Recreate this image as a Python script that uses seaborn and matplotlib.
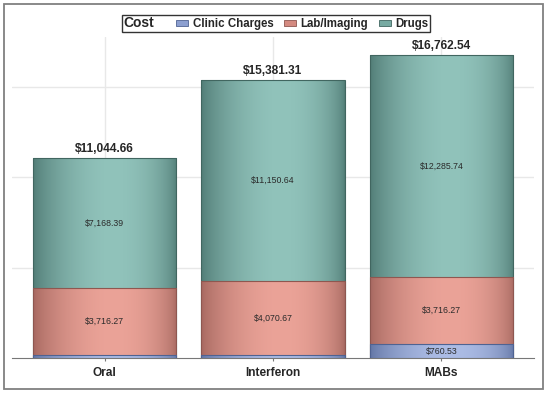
import numpy as np
import pandas as pd
import matplotlib
matplotlib.use("Agg")
import matplotlib.pyplot as plt
from matplotlib.colors import to_rgb
from matplotlib.patches import Patch, Rectangle
from matplotlib.offsetbox import DrawingArea
import seaborn as sns

# Data
categories = ["Oral", "Interferon", "MABs"]
clinic = [160.00, 160.00, 760.53]
lab = [3716.27, 4070.67, 3716.27]
drugs = [7168.39, 11150.64, 12285.74]
segment_names = ["Clinic Charges", "Lab/Imaging", "Drugs"]

# Colours (light centre / dark edge of the shaded bars)
light = {"Clinic Charges": "#acbce5", "Lab/Imaging": "#eba398", "Drugs": "#91c3bb"}
dark = {"Clinic Charges": "#6174a4", "Lab/Imaging": "#a5675f", "Drugs": "#507b75"}
edge = {"Clinic Charges": "#4f6392", "Lab/Imaging": "#8e5750", "Drugs": "#416660"}
mid = {"Clinic Charges": "#8c9fd0", "Lab/Imaging": "#d48a80", "Drugs": "#77aaa2"}

sns.set_style("white")
plt.rcParams["font.family"] = ["Liberation Sans", "DejaVu Sans"]

df = pd.DataFrame({"Treatment": categories, "Clinic Charges": clinic,
                   "Lab/Imaging": lab, "Drugs": drugs})
df["Lab_top"] = df["Clinic Charges"] + df["Lab/Imaging"]
df["Total"] = df["Lab_top"] + df["Drugs"]

fig = plt.figure(figsize=(5.5, 3.96), dpi=100)
ax = fig.add_axes([12 / 550, 38 / 396, 522 / 550, 321 / 396])

# stacked bars drawn as overlapping cumulative bars, then shaded
layers = [("Total", "Drugs"), ("Lab_top", "Lab/Imaging"), ("Clinic Charges", "Clinic Charges")]
t = np.linspace(0, 1, 300)
wgt = np.sin(np.pi * t ** 1.2) ** 0.6

for i, (col, name) in enumerate(layers):
    n0 = len(ax.patches)
    sns.barplot(data=df, x="Treatment", y=col, order=categories, width=0.85,
                color=light[name], edgecolor=edge[name], linewidth=0.8,
                errorbar=None, ax=ax)
    lo = np.array(to_rgb(dark[name]))
    hi = np.array(to_rgb(light[name]))
    grad = lo + (hi - lo) * wgt[:, None]
    for p in ax.patches[n0:]:
        x0, y0 = p.get_x(), p.get_y()
        w, h = p.get_width(), p.get_height()
        im = ax.imshow(grad[None], extent=(x0, x0 + w, y0, y0 + h), aspect="auto",
                       interpolation="bilinear", zorder=3 + 2 * i)
        im.set_clip_path(p)
        p.set_facecolor("none")
        p.set_zorder(3.5 + 2 * i)

# value labels
for i in range(len(categories)):
    base = 0
    for name, vals in zip(segment_names, [clinic, lab, drugs]):
        v = vals[i]
        if v > 500:
            ax.text(i, base + v / 2, f"${v:,.2f}", ha="center", va="center",
                    fontsize=6.3, color="#2a2a2a", zorder=20)
        base += v
    ax.annotate(f"${base:,.2f}", (i, base), xytext=(0, 3), textcoords="offset pixels",
                ha="center", va="bottom", fontsize=8.6, fontweight="bold", zorder=20)

ax.set_xlim(-0.55, 2.55)
ax.set_ylim(0, 17750)
ax.set(xlabel="", ylabel="")
ax.set_yticks([5000, 10000, 15000])
ax.grid(True, color="#e8e8e8", lw=1)
ax.set_axisbelow(True)
for s in ["left", "top", "right"]:
    ax.spines[s].set_visible(False)
ax.spines["bottom"].set_color("#777777")
ax.tick_params(axis="y", left=False, labelleft=False)
ax.tick_params(axis="x", bottom=True, length=2.5, color="#777777", labelsize=8.6, pad=4)
for tl in ax.get_xticklabels():
    tl.set_fontweight("bold")

# legend with title on the left
handles = [Patch(facecolor=mid[n], edgecolor=edge[n], lw=0.6) for n in segment_names]
leg = fig.legend(handles, segment_names, title="Cost", ncol=3, loc="upper center",
                 bbox_to_anchor=(276 / 550, 1 - 9 / 396), frameon=True, fancybox=False,
                 edgecolor="black", prop={"weight": "bold", "size": 8.3},
                 title_fontproperties={"weight": "bold", "size": 10},
                 handlelength=1.05, handleheight=0.45, handletextpad=0.37,
                 columnspacing=0.95, borderpad=0.15)
leg.get_frame().set_linewidth(1.0)
box = leg.get_children()[0]
title_box, hbox = box.get_children()[0], box.get_children()[1]
box._children = [hbox]
hbox._children = [title_box, DrawingArea(0.1, 0.1)] + hbox.get_children()

# outer border
fig.add_artist(Rectangle((4 / 550, 7 / 396), 539 / 550, 385.5 / 396, transform=fig.transFigure,
                         fill=False, edgecolor="#808080", lw=1.3))

fig.savefig("out.png", dpi=100)
